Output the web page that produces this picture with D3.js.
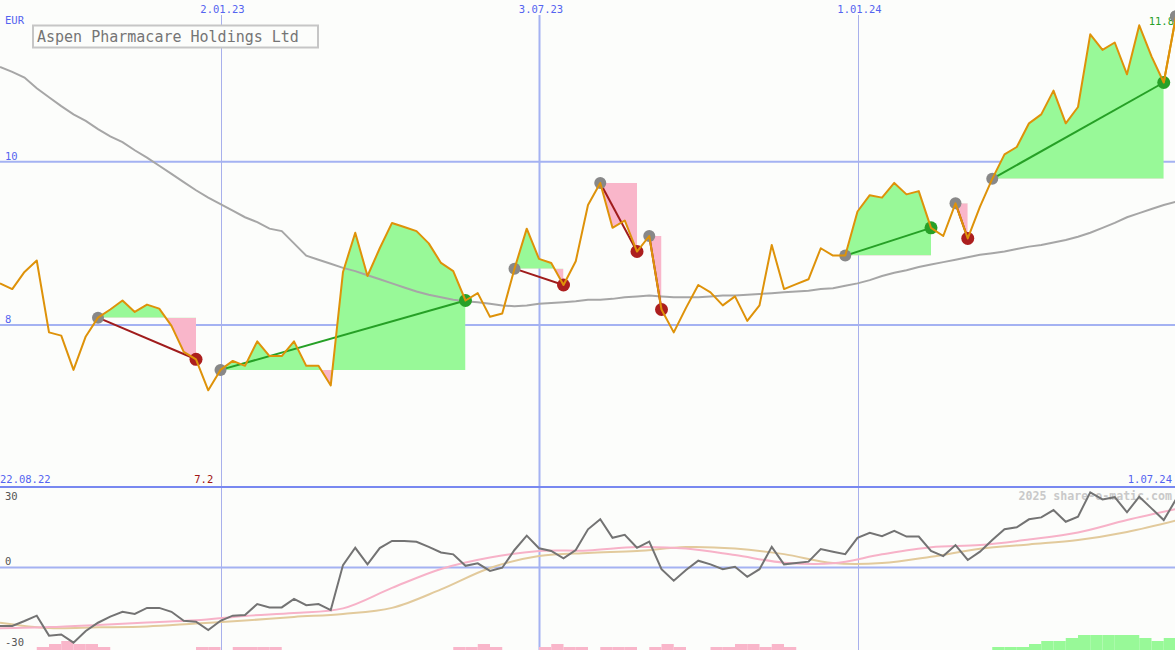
<!DOCTYPE html>
<html><head><meta charset="utf-8">
<script src="https://cdn.jsdelivr.net/npm/d3@7"></script>
<style>html,body{margin:0;padding:0;background:#fcfdfb;overflow:hidden}svg{display:block}</style>
</head><body><svg id="c" width="1175" height="650"></svg>
<script>
// ---------- DATA ----------
const title = "Aspen Pharmacare Holdings Ltd";
const currency = "EUR";
const startDate = "2022-08-29";   // first weekly observation
const endDate = "2024-07-01";
const stepDays = 7;
const firstLabel = "22.08.22";
const lastLabel = "1.07.24";

// weekly close (EUR)
const price = [8.51,8.44,8.65,8.79,7.91,7.87,7.45,7.86,8.09,8.19,
 8.30,8.16,8.25,8.20,7.99,7.67,7.58,7.20,7.45,7.56,
 7.50,7.80,7.62,7.62,7.80,7.50,7.50,7.26,8.65,9.13,
 8.60,8.94,9.25,9.20,9.15,9.00,8.76,8.66,8.30,8.39,
 8.10,8.14,8.69,9.18,8.81,8.76,8.49,8.78,9.47,9.74,
 9.19,9.28,8.90,9.09,8.19,7.91,8.21,8.49,8.40,8.24,
 8.35,8.05,8.24,8.98,8.44,8.50,8.56,8.94,8.85,8.85,
 9.39,9.59,9.56,9.74,9.60,9.64,9.19,9.09,9.49,9.06,
 9.45,9.79,10.09,10.18,10.47,10.58,10.87,10.47,10.67,11.56,
 11.37,11.46,11.07,11.67,11.29,10.97,11.78];

// long moving average (EUR)
const movingAvg = [11.16,11.10,11.03,10.90,10.79,10.68,10.58,10.50,10.40,10.31,
 10.24,10.14,10.05,9.95,9.85,9.75,9.65,9.56,9.48,9.40,
 9.32,9.26,9.18,9.15,9.00,8.85,8.80,8.75,8.70,8.66,
 8.61,8.56,8.51,8.46,8.41,8.37,8.34,8.31,8.29,8.28,
 8.26,8.24,8.23,8.24,8.26,8.27,8.28,8.29,8.31,8.31,
 8.32,8.34,8.35,8.36,8.35,8.34,8.34,8.34,8.35,8.36,
 8.36,8.37,8.38,8.39,8.40,8.41,8.42,8.44,8.45,8.48,
 8.51,8.55,8.60,8.64,8.67,8.71,8.74,8.77,8.80,8.83,
 8.86,8.88,8.90,8.93,8.96,8.98,9.01,9.04,9.08,9.13,
 9.19,9.25,9.32,9.37,9.42,9.47,9.51];

// signal segments (week index of start / end)
const segStart = [8, 18, 42, 49, 53, 69, 78, 81];
const segEnd   = [16, 38, 46, 52, 54, 76, 79, 95];
const openStart = [96];

// oscillator (lower panel), weekly
const osc = [-24.0,-24.0,-22.0,-19.8,-28.0,-27.5,-30.9,-26.1,-22.7,-20.2,
 -18.2,-19.1,-16.6,-16.6,-18.2,-21.9,-22.3,-25.7,-21.9,-19.8,
 -19.5,-15.0,-16.4,-16.4,-12.9,-15.5,-15.0,-17.5,1.0,8.1,
 1.3,8.0,10.9,10.9,10.6,8.5,6.2,5.4,0.7,1.7,
 -1.4,-0.1,7.2,13.1,7.9,6.8,3.8,7.2,15.7,19.8,
 12.2,13.4,8.1,10.6,-0.7,-5.4,-1.0,2.8,1.3,-0.7,
 0.3,-3.8,-0.7,8.5,1.3,1.8,2.4,7.6,6.5,5.5,
 12.2,14.3,12.9,15.1,12.7,12.7,6.8,4.7,9.2,3.1,
 6.5,11.3,15.7,16.5,19.8,20.6,23.6,18.8,20.9,30.9,
 28.0,28.9,22.7,29.1,24.3,19.5,28.0];
// smoothed oscillator lines, read every 4 weeks
const smoothStep = 4;
const oscPink = [-25.0,-24.5,-23.6,-22.6,-21.7,-19.9,-18.7,-16.8,-8.4,-0.6,4.1,6.8,7.0,8.4,7.8,5.1,2.0,1.7,5.4,8.3,9.2,11.5,14.4,19.5,24.0];
const oscTan  = [-22.7,-24.9,-24.6,-24.2,-23.0,-21.8,-20.3,-19.1,-16.6,-9.0,-0.2,4.7,6.0,6.8,8.4,7.8,5.5,1.8,1.8,4.4,7.7,9.5,11.3,14.6,19.3];
// bottom histogram (negative = pink, positive = green)
const bars = [0,0,0,-1,-2,-3,-2,-2,-1,0,
 0,0,0,0,0,0,-1,-1,0,-1,
 -1,-1,-1,0,0,0,0,0,0,0,
 0,0,0,0,0,0,0,-1,-1,-2,
 -1,0,0,0,-1,-2,-1,-1,0,-1,
 -1,-1,0,-1,-2,-1,0,0,-1,-1,
 -2,-2,-1,-2,-1,0,0,0,0,0,
 0,0,0,0,0,0,0,0,0,0,
 0,1,1,1,2,3,3,4,5,5,
 5,5,5,4,3,4,0];

const priceTicks = [8, 10];
const oscTicks = [30, 0, -30];
const dateTicks = ["2023-01-02", "2023-07-03", "2024-01-01"];
const dateTickMajor = [false, true, false];
const watermark = "2025 share-o-matic.com";

// ---------- CHART ----------
const W = 1175, H = 650;
const FONT = "'DejaVu Sans Mono', 'Liberation Mono', monospace";
const C = {
  bg: "#fcfdfb", grid: "#a4b2f2", gridV: "#a8b0ec", sep: "#7888f0", label: "#5464f0",
  price: "#de9209", ma: "#a6a6a6", up: "#98f998", down: "#f9b6ca",
  upLine: "#26a026", downLine: "#a01c1c", startDot: "#888888", upDot: "#28a028", downDot: "#ac1e1e",
  osc: "#737373", pink: "#f7b2c8", tan: "#e2ca9c"
};
const svg = d3.select("#c");
const defs = svg.append("defs");
const parse = d3.utcParse("%Y-%m-%d");
const t0 = parse(startDate);
const dates = price.map((_, i) => d3.utcDay.offset(t0, i * stepDays));
const x = d3.scaleUtc().domain([t0, parse(endDate)]).range([0, 1176]);
const yP = d3.scaleLinear().domain([8, 10]).range([325, 161.7]);
const yO = d3.scaleLinear().domain([0, 30]).range([567.5, 494.5]);
const yB = d3.scaleLinear().domain([0, 5]).range([0, 15]);
const SEP = 487;

svg.append("rect").attr("width", W).attr("height", H).attr("fill", C.bg);

defs.append("clipPath").attr("id", "mainClip").append("rect").attr("x", 0).attr("y", 0).attr("width", W).attr("height", SEP);
defs.append("clipPath").attr("id", "lowClip").append("rect").attr("x", 0).attr("y", SEP + 1).attr("width", W).attr("height", H - SEP);

// horizontal grid
svg.selectAll(".hg").data(priceTicks).join("line")
  .attr("x1", 0).attr("x2", W).attr("y1", d => yP(d)).attr("y2", d => yP(d))
  .attr("stroke", C.grid).attr("stroke-width", 2);
// vertical grid
svg.selectAll(".vg").data(dateTicks).join("line")
  .attr("x1", d => Math.round(x(parse(d))) + 0.5).attr("x2", d => Math.round(x(parse(d))) + 0.5)
  .attr("y1", 15).attr("y2", H)
  .attr("stroke", (d, i) => dateTickMajor[i] ? C.grid : C.gridV)
  .attr("stroke-width", (d, i) => dateTickMajor[i] ? 2 : 1);
// lower zero line
svg.append("line").attr("x1", 0).attr("x2", W).attr("y1", yO(0)).attr("y2", yO(0)).attr("stroke", C.grid).attr("stroke-width", 2);
// separator
svg.append("line").attr("x1", 0).attr("x2", W).attr("y1", SEP).attr("y2", SEP).attr("stroke", C.sep).attr("stroke-width", 2);

// ---- main panel ----
const gMain = svg.append("g").attr("clip-path", "url(#mainClip)");
const gFill = gMain.append("g");
segStart.forEach((s, k) => {
  const e = segEnd[k];
  const base = price[s];
  const idx = d3.range(s, e + 1);
  const area = d3.area().x(i => x(dates[i])).y0(yP(base)).y1(i => yP(price[i]));
  const x0 = x(dates[s]), x1 = x(dates[e]), by = yP(base);
  defs.append("clipPath").attr("id", "cu" + k).append("rect").attr("x", x0).attr("y", 0).attr("width", x1 - x0).attr("height", by);
  defs.append("clipPath").attr("id", "cd" + k).append("rect").attr("x", x0).attr("y", by).attr("width", x1 - x0).attr("height", SEP - by);
  gFill.append("path").attr("d", area(idx)).attr("fill", C.up).attr("clip-path", `url(#cu${k})`);
  gFill.append("path").attr("d", area(idx)).attr("fill", C.down).attr("clip-path", `url(#cd${k})`);
});

// moving average
gMain.append("path")
  .attr("d", d3.line().x((d, i) => x(dates[i])).y(d => yP(d))(movingAvg))
  .attr("fill", "none").attr("stroke", C.ma).attr("stroke-width", 2);

// segment lines & dots
segStart.forEach((s, k) => {
  const e = segEnd[k];
  const up = price[e] >= price[s];
  gMain.append("line").attr("x1", x(dates[s])).attr("y1", yP(price[s])).attr("x2", x(dates[e])).attr("y2", yP(price[e]))
    .attr("stroke", up ? C.upLine : C.downLine).attr("stroke-width", 2);
});
segStart.concat(openStart).forEach(s => {
  gMain.append("circle").attr("cx", x(dates[s])).attr("cy", yP(price[s])).attr("r", 6).attr("fill", C.startDot);
});
segStart.forEach((s, k) => {
  const e = segEnd[k];
  const up = price[e] >= price[s];
  gMain.append("circle").attr("cx", x(dates[e])).attr("cy", yP(price[e])).attr("r", 6.5).attr("fill", up ? C.upDot : C.downDot);
});

// price line
gMain.append("path")
  .attr("d", d3.line().x((d, i) => x(dates[i])).y(d => yP(d))(price))
  .attr("fill", "none").attr("stroke", C.price).attr("stroke-width", 2).attr("stroke-linejoin", "round");

// ---- lower panel ----
const gLow = svg.append("g").attr("clip-path", "url(#lowClip)");
gLow.selectAll(".bar").data(bars.slice(0, bars.length - 1)).join("rect")
  .attr("x", (d, i) => x(dates[i]))
  .attr("width", (d, i) => x(dates[i + 1]) - x(dates[i]))
  .attr("y", d => H - yB(Math.abs(d)))
  .attr("height", d => yB(Math.abs(d)))
  .attr("fill", d => d < 0 ? C.down : C.up);

gLow.append("text").attr("x", 1172).attr("y", 500).attr("text-anchor", "end")
  .attr("font-family", FONT).attr("font-size", 11.6).attr("font-weight", "bold").attr("fill", "#c9c9c9").text(watermark);

const smoothDates = oscPink.map((_, i) => dates[i * smoothStep]);
gLow.append("path").attr("d", d3.line().curve(d3.curveCatmullRom).x((d, i) => x(smoothDates[i])).y(d => yO(d))(oscTan))
  .attr("fill", "none").attr("stroke", C.tan).attr("stroke-width", 2);
gLow.append("path").attr("d", d3.line().curve(d3.curveCatmullRom).x((d, i) => x(smoothDates[i])).y(d => yO(d))(oscPink))
  .attr("fill", "none").attr("stroke", C.pink).attr("stroke-width", 2);
gLow.append("path").attr("d", d3.line().x((d, i) => x(dates[i])).y(d => yO(d))(osc))
  .attr("fill", "none").attr("stroke", C.osc).attr("stroke-width", 2);

// ---- labels ----
const txt = (sel) => sel.attr("font-family", FONT).attr("font-size", 10.5);
const fmtDate = d3.utcFormat("%-d.%m.%y");
svg.selectAll(".dl").data(dateTicks).join("text").call(txt)
  .attr("x", d => x(parse(d)) + 2).attr("y", 13).attr("text-anchor", "middle").attr("fill", C.label)
  .text(d => fmtDate(parse(d)));
svg.append("text").call(txt).attr("x", 5).attr("y", 24).attr("fill", C.label).text(currency);
svg.selectAll(".pl").data(priceTicks).join("text").call(txt)
  .attr("x", 5).attr("y", d => yP(d) - 2).attr("fill", C.label).text(d => d);
svg.selectAll(".ol").data(oscTicks).join("text").call(txt)
  .attr("x", 5).attr("y", d => d === 0 ? yO(d) - 2.5 : yO(d) + 5.5).attr("fill", "#555").text(d => d);
svg.append("text").call(txt).attr("x", 0).attr("y", 483).attr("fill", C.label).text(firstLabel);
svg.append("text").call(txt).attr("x", 1172).attr("y", 483).attr("text-anchor", "end").attr("fill", C.label).text(lastLabel);
const minI = d3.minIndex(price);
svg.append("text").call(txt).attr("x", x(dates[minI]) + 5).attr("y", 483).attr("text-anchor", "end")
  .attr("fill", "#a01414").text(d3.format(".1f")(price[minI]));
// last price label
const lastI = price.length - 1;
svg.append("text").call(txt).attr("x", 1174).attr("y", 25).attr("text-anchor", "end")
  .attr("fill", C.upDot).text(d3.format(".1f")(price[lastI]));
// redraw the last dot on top of the label
svg.append("circle").attr("cx", x(dates[lastI])).attr("cy", yP(price[lastI])).attr("r", 6).attr("fill", C.startDot);
svg.append("path").attr("d", d3.line().x(i => x(dates[i])).y(i => yP(price[i]))([lastI - 1, lastI]))
  .attr("fill", "none").attr("stroke", C.price).attr("stroke-width", 2);

// title box
svg.append("rect").attr("x", 33).attr("y", 25.5).attr("width", 285).attr("height", 22)
  .attr("fill", C.bg).attr("stroke", "#c6c6c6").attr("stroke-width", 2);
svg.append("text").attr("x", 37).attr("y", 41.5).attr("font-family", FONT).attr("font-size", 15)
  .attr("fill", "#757575").text(title);
</script>
</body></html>
